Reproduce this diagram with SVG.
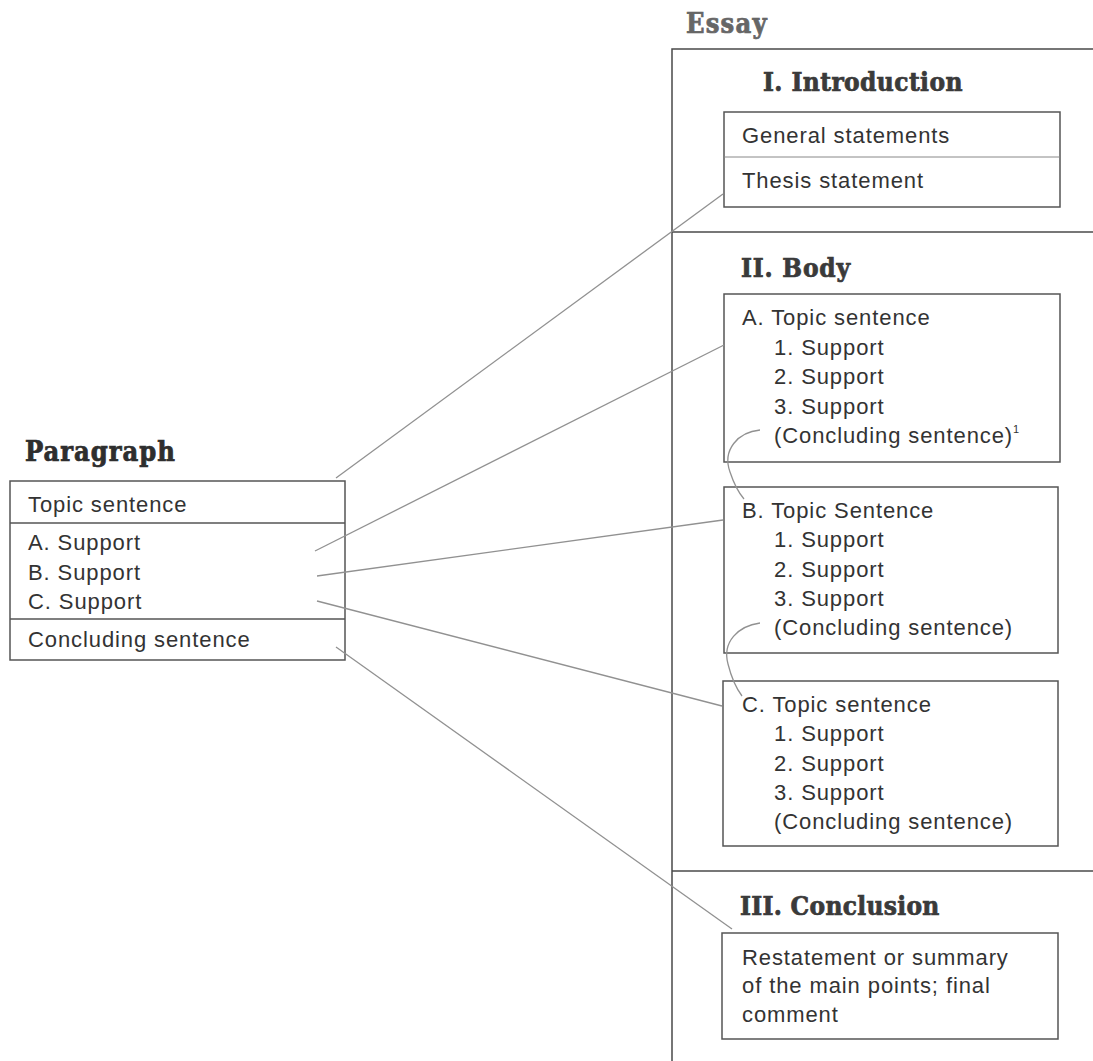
<svg xmlns="http://www.w3.org/2000/svg" width="1093" height="1061" viewBox="0 0 1093 1061">
<style>
.t{font-family:"Liberation Sans",Arial,sans-serif;font-size:22px;letter-spacing:0.9px;fill:#333}
.h{font-family:"DejaVu Serif Condensed","DejaVu Serif",serif;font-stretch:condensed;font-weight:bold;font-size:26px;fill:#3a3a3a;stroke:#3a3a3a;stroke-width:0.7}
.box{fill:none;stroke:#555;stroke-width:1.5}
.frame{fill:none;stroke:#4a4a4a;stroke-width:1.5}
.c{fill:none;stroke:#919191;stroke-width:1.3}
</style>
<rect width="1093" height="1061" fill="#fff"/>

<g id="paragraph">
<text class="h" x="25" y="461" style="fill:#2e2e2e;stroke:#2e2e2e;font-size:27px;letter-spacing:1px">Paragraph</text>
<rect class="box" x="10" y="481" width="335" height="179"/>
<line class="box" x1="10" y1="523" x2="345" y2="523"/>
<line class="box" x1="10" y1="619" x2="345" y2="619"/>
<text class="t" x="28" y="512">Topic sentence</text>
<text class="t" x="28" y="550">A. Support</text>
<text class="t" x="28" y="580">B. Support</text>
<text class="t" x="28" y="609">C. Support</text>
<text class="t" x="28" y="647">Concluding sentence</text>
</g>

<g id="essay">
<text class="h" x="686" y="33" style="fill:#666;stroke:#666;font-size:27px;letter-spacing:1.2px">Essay</text>
<path class="frame" d="M1093 49 L672 49 L672 1061"/>
<line class="frame" x1="672" y1="232" x2="1093" y2="232"/>
<line class="frame" x1="672" y1="871" x2="1093" y2="871"/>
</g>

<g id="introduction">
<text class="h" x="763" y="91" style="letter-spacing:0.4px">I. Introduction</text>
<rect class="box" x="724" y="112" width="336" height="95"/>
<line class="box" x1="724" y1="157" x2="1060" y2="157" style="stroke:#888;stroke-width:1"/>
<text class="t" x="742" y="143">General statements</text>
<text class="t" x="742" y="188">Thesis statement</text>
</g>

<g id="body">
<text class="h" x="741" y="277" style="letter-spacing:0.8px">II. Body</text>
</g>

<g id="body-a">
<rect class="box" x="724" y="294" width="336" height="168"/>
<text class="t" x="742" y="325">A. Topic sentence</text>
<text class="t" x="774" y="355">1. Support</text>
<text class="t" x="774" y="384">2. Support</text>
<text class="t" x="774" y="414">3. Support</text>
<text class="t" x="774" y="443">(Concluding sentence)<tspan dy="-10" style="font-size:11px">1</tspan></text>
</g>

<g id="body-b">
<rect class="box" x="724" y="487" width="334" height="166"/>
<text class="t" x="742" y="518">B. Topic Sentence</text>
<text class="t" x="774" y="547">1. Support</text>
<text class="t" x="774" y="577">2. Support</text>
<text class="t" x="774" y="606">3. Support</text>
<text class="t" x="774" y="635">(Concluding sentence)</text>
</g>

<g id="body-c">
<rect class="box" x="723" y="681" width="335" height="165"/>
<text class="t" x="742" y="712">C. Topic sentence</text>
<text class="t" x="774" y="741">1. Support</text>
<text class="t" x="774" y="771">2. Support</text>
<text class="t" x="774" y="800">3. Support</text>
<text class="t" x="774" y="829">(Concluding sentence)</text>
</g>

<g id="conclusion">
<text class="h" x="740" y="915" style="letter-spacing:0.3px">III. Conclusion</text>
<rect class="box" x="722" y="933" width="336" height="106"/>
<text class="t" x="742" y="965">Restatement or summary</text>
<text class="t" x="742" y="993">of the main points; final</text>
<text class="t" x="742" y="1022">comment</text>
</g>

<g id="connectors">
<line class="c" x1="336" y1="478" x2="723" y2="194"/>
<line class="c" x1="315" y1="551" x2="724" y2="345"/>
<line class="c" x1="317" y1="576" x2="723" y2="520"/>
<line class="c" x1="317" y1="601" x2="722" y2="706"/>
<line class="c" x1="336" y1="647" x2="732" y2="929"/>
<path class="c" d="M760 430 C738 432 722 450 730 472 C734 484 738 492 744 499"/>
<path class="c" d="M760 623 C738 626 722 642 728 664 C731 676 736 688 742 696"/>
</g>
</svg>
